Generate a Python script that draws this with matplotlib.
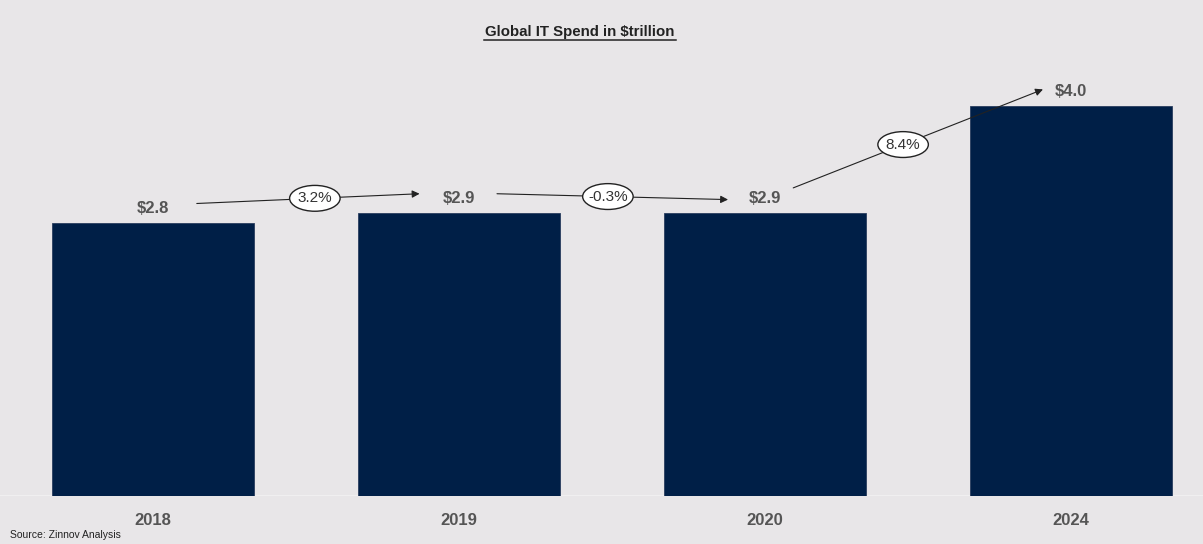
import matplotlib.pyplot as plt
from matplotlib.patches import Ellipse

plt.rcParams['font.family'] = ['Liberation Sans', 'DejaVu Sans']

years = ['2018', '2019', '2020', '2024']
spend = [2.8, 2.9, 2.9, 4.0]
labels = ['$2.8', '$2.9', '$2.9', '$4.0']
growth = ['3.2%', '-0.3%', '8.4%']

bg = '#E8E6E8'
bar_color = '#001F47'
W, H = 1203, 544

fig = plt.figure(figsize=(W / 100, H / 100), dpi=100)
fig.patch.set_facecolor(bg)

# axes covers the figure above the baseline
ax = fig.add_axes([0, 48 / H, 1, 1 - 48 / H])
ax.set_facecolor(bg)
x = list(range(len(years)))
ax.bar(x, spend, width=0.66, color=bar_color, edgecolor='#2a3d5e', linewidth=0.6, zorder=2)
ax.set_xlim(-0.5, 3.431)
ax.set_ylim(0, 5.087)
ax.axis('off')
ax.axhline(0, color='#f2f1f2', lw=1.2, zorder=1)

# value labels
for i, (v, lab) in enumerate(zip(spend, labels)):
    ax.text(i, v + 0.07, lab, ha='center', va='bottom', fontsize=12,
            fontweight='bold', color='#555555')

# year labels
for i, yr in enumerate(years):
    ax.text(i, -0.25, yr, ha='center', va='center', fontsize=12,
            fontweight='bold', color='#555555', clip_on=False)

# growth arrows between bars, ellipse placed at a fraction along each arrow
arrows = [((0.143, 3.0), (0.871, 3.1)),
          ((1.124, 3.1), (1.879, 3.04)),
          ((2.092, 3.16), (2.908, 4.17))]
where = [0.53, 0.48, 0.44]
for (p0, p1), g, f in zip(arrows, growth, where):
    ax.annotate('', xy=p1, xytext=p0,
                arrowprops=dict(arrowstyle='-|>', color='#222222', lw=0.8,
                                mutation_scale=11, shrinkA=0, shrinkB=0),
                zorder=3)
    mx = p0[0] + (p1[0] - p0[0]) * f
    my = p0[1] + (p1[1] - p0[1]) * f
    ell = Ellipse((mx, my), 0.165, 0.265, facecolor='white', edgecolor='#222222',
                  lw=1.0, zorder=4)
    ax.add_patch(ell)
    ax.text(mx, my, g, ha='center', va='center', fontsize=11,
            color='#333333', zorder=5)

fig.text(580 / W, 1 - 32 / H, 'Global IT Spend in $trillion', ha='center', va='center',
         fontsize=10.8, fontweight='bold', color='#222222')
fig.add_artist(plt.Line2D([484 / W, 676 / W], [1 - 40 / H, 1 - 40 / H],
                          color='#222222', lw=1.1))

fig.text(10 / W, 1 - 535 / H, 'Source: Zinnov Analysis', ha='left', va='center',
         fontsize=7.5, color='#222222')

fig.savefig('out.png', dpi=100, facecolor=bg)
